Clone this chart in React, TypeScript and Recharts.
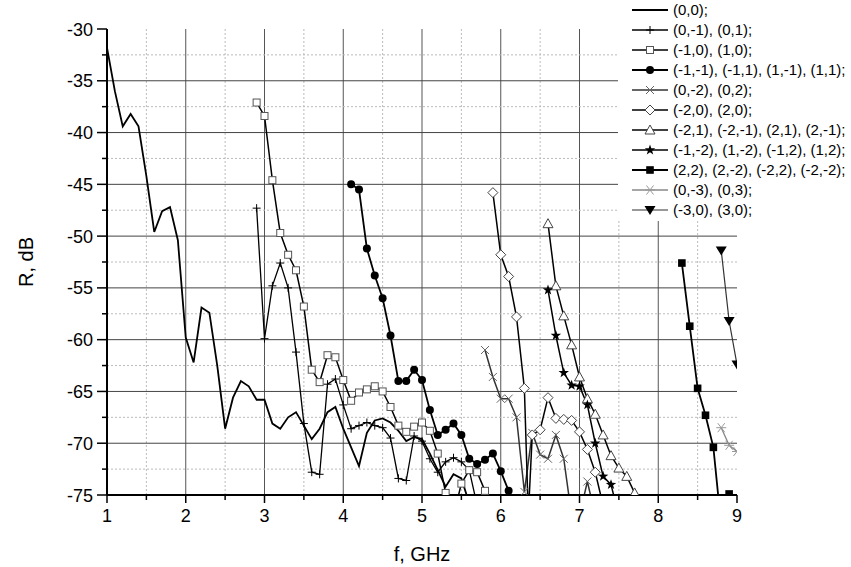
import React from 'react';
import { LineChart, Line, XAxis, YAxis, ReferenceLine, Label } from 'recharts';

// ---------- axes / ticks ----------
const xMajor = [1, 2, 3, 4, 5, 6, 7, 8, 9];
const xMinor = [1.5, 2.5, 3.5, 4.5, 5.5, 6.5, 7.5, 8.5];
const yMajor = [-30, -35, -40, -45, -50, -55, -60, -65, -70, -75];
const yMinor = [-32.5, -37.5, -42.5, -47.5, -52.5, -57.5, -62.5, -67.5, -72.5];
const xGridMajor = [2, 3, 4, 5, 6, 7, 8];
const yGridMajor = [-35, -40, -45, -50, -55, -60, -65, -70];

// ---------- series data ----------
const f00 = [1.0, 1.1, 1.2, 1.3, 1.4, 1.5, 1.6, 1.7, 1.8, 1.9, 2.0, 2.1, 2.2, 2.3, 2.4, 2.5, 2.6, 2.7, 2.8, 2.9, 3.0, 3.1, 3.2, 3.3, 3.4, 3.5, 3.6, 3.7, 3.8, 3.9, 4.0, 4.1, 4.2, 4.3, 4.4, 4.5, 4.6, 4.7, 4.8, 4.9, 5.0, 5.1, 5.2, 5.3, 5.4, 5.5, 5.6];
const r00 = [-31.8, -36.0, -39.4, -38.2, -39.4, -44.2, -49.6, -47.6, -47.2, -50.4, -59.8, -62.2, -56.9, -57.4, -62.5, -68.6, -65.6, -64.0, -64.5, -65.8, -65.8, -68.1, -68.6, -67.5, -67.0, -68.3, -69.6, -68.6, -67.0, -66.5, -68.6, -70.4, -72.2, -69.0, -67.8, -67.6, -68.0, -68.8, -69.8, -69.4, -69.6, -71.0, -72.6, -74.2, -73.0, -73.4, -75.8];

const f01 = [2.9, 3.0, 3.1, 3.2, 3.3, 3.4, 3.5, 3.6, 3.7, 3.8, 3.9, 4.0, 4.1, 4.2, 4.3, 4.4, 4.5, 4.6, 4.7, 4.8, 4.9, 5.0, 5.1, 5.2, 5.3, 5.4, 5.5, 5.6, 5.7];
const r01 = [-47.3, -59.9, -54.8, -52.6, -55.0, -61.2, -68.1, -72.8, -73.0, -64.3, -63.8, -66.3, -68.6, -68.3, -68.0, -68.3, -68.5, -69.5, -73.4, -73.6, -69.3, -69.8, -71.5, -72.8, -71.8, -71.4, -71.8, -72.6, -76.0];

const f10 = [2.9, 3.0, 3.1, 3.2, 3.3, 3.4, 3.5, 3.6, 3.7, 3.8, 3.9, 4.0, 4.1, 4.2, 4.3, 4.4, 4.5, 4.6, 4.7, 4.8, 4.9, 5.0, 5.1, 5.2, 5.3, 5.4, 5.5, 5.6, 5.7, 5.8, 5.9];
const r10 = [-37.1, -38.4, -44.6, -49.7, -51.8, -53.3, -56.8, -62.9, -64.1, -61.5, -61.7, -63.9, -65.9, -65.1, -64.8, -64.5, -65.0, -66.5, -68.3, -68.9, -68.4, -68.0, -68.8, -71.0, -74.8, -77.0, -73.9, -72.6, -72.8, -74.6, -77.0];

const f11 = [4.1, 4.2, 4.3, 4.4, 4.5, 4.6, 4.7, 4.8, 4.9, 5.0, 5.1, 5.2, 5.3, 5.4, 5.5, 5.6, 5.7, 5.8, 5.9, 6.0, 6.1];
const r11 = [-45.0, -45.5, -51.2, -53.8, -56.0, -59.6, -64.0, -64.0, -62.9, -63.9, -66.8, -69.2, -68.7, -68.1, -69.2, -71.5, -72.0, -71.6, -71.0, -72.7, -74.6];

const f02 = [5.8, 5.9, 6.0, 6.1, 6.2, 6.3, 6.4, 6.5, 6.6, 6.7, 6.8, 6.9, 7.0, 7.1, 7.2];
const r02 = [-61.0, -63.6, -65.7, -65.7, -67.5, -74.7, -69.0, -71.1, -71.5, -69.2, -71.5, -77.0, -77.0, -73.7, -77.0];

const f20 = [5.9, 6.0, 6.1, 6.2, 6.3, 6.35, 6.4, 6.5, 6.6, 6.7, 6.8, 6.9, 7.0, 7.1, 7.2, 7.3];
const r20 = [-45.8, -51.8, -53.9, -57.8, -64.7, -77.0, -69.2, -68.7, -65.6, -67.6, -67.7, -67.8, -68.9, -70.6, -72.8, -76.0];

const f21 = [6.6, 6.7, 6.8, 6.9, 7.0, 7.1, 7.2, 7.3, 7.4, 7.5, 7.6, 7.7];
const r21 = [-48.8, -54.8, -57.7, -60.5, -63.6, -65.7, -67.2, -69.2, -71.2, -72.4, -73.2, -74.8];

const f12 = [6.6, 6.7, 6.8, 6.9, 7.0, 7.1, 7.2, 7.3, 7.4, 7.5];
const r12 = [-55.2, -59.6, -63.2, -64.4, -64.5, -66.3, -70.0, -73.2, -74.0, -77.0];

const f22 = [8.3, 8.4, 8.5, 8.6, 8.7, 8.8, 8.9, 9.0];
const r22 = [-52.6, -58.7, -64.7, -67.3, -70.4, -78.0, -74.9, -78.0];

const f03 = [8.8, 8.9, 9.0];
const r03 = [-68.5, -70.2, -70.8];

const f30 = [8.8, 8.9, 9.0];
const r30 = [-51.4, -58.2, -62.4];

const legendNames = [
  '(0,0);',
  '(0,-1), (0,1);',
  '(-1,0), (1,0);',
  '(-1,-1), (-1,1), (1,-1), (1,1);',
  '(0,-2), (0,2);',
  '(-2,0), (2,0);',
  '(-2,1), (-2,-1), (2,1), (2,-1);',
  '(-1,-2), (1,-2), (-1,2), (1,2);',
  '(2,2), (2,-2), (-2,2), (-2,-2);',
  '(0,-3), (0,3);',
  '(-3,0), (3,0);',
];

type MarkerType = 'none' | 'plus' | 'square' | 'circle' | 'x' | 'diamond' | 'triangle' | 'star' | 'fsquare' | 'asterisk' | 'tdown';

const series: { f: number[]; r: number[]; marker: MarkerType; color: string; mcolor: string; width: number }[] = [
  { f: f00, r: r00, marker: 'none', color: '#000', mcolor: '#000', width: 1.8 },
  { f: f01, r: r01, marker: 'plus', color: '#000', mcolor: '#000', width: 1.3 },
  { f: f10, r: r10, marker: 'square', color: '#000', mcolor: '#555', width: 1.5 },
  { f: f11, r: r11, marker: 'circle', color: '#000', mcolor: '#000', width: 1.8 },
  { f: f02, r: r02, marker: 'x', color: '#333', mcolor: '#666', width: 1.5 },
  { f: f20, r: r20, marker: 'diamond', color: '#000', mcolor: '#444', width: 1.5 },
  { f: f21, r: r21, marker: 'triangle', color: '#000', mcolor: '#444', width: 1.5 },
  { f: f12, r: r12, marker: 'star', color: '#000', mcolor: '#000', width: 1.5 },
  { f: f22, r: r22, marker: 'fsquare', color: '#000', mcolor: '#000', width: 1.8 },
  { f: f03, r: r03, marker: 'asterisk', color: '#888', mcolor: '#999', width: 1.3 },
  { f: f30, r: r30, marker: 'tdown', color: '#333', mcolor: '#000', width: 1.2 },
];

function starPoints(cx: number, cy: number, ro: number, ri: number) {
  const pts: string[] = [];
  for (let i = 0; i < 10; i++) {
    const a = -Math.PI / 2 + (i * Math.PI) / 5;
    const rr = i % 2 === 0 ? ro : ri;
    pts.push(`${cx + rr * Math.cos(a)},${cy + rr * Math.sin(a)}`);
  }
  return pts.join(' ');
}

function Marker({ type, cx, cy, color }: { type: MarkerType; cx: number; cy: number; color: string }) {
  if (cx == null || cy == null || isNaN(cx) || isNaN(cy)) return <g />;
  switch (type) {
    case 'plus':
      return <path d={`M${cx - 4},${cy}H${cx + 4}M${cx},${cy - 4}V${cy + 4}`} stroke={color} strokeWidth={1} fill="none" />;
    case 'square':
      return <rect x={cx - 3.5} y={cy - 3.5} width={7} height={7} fill="#fff" stroke={color} strokeWidth={1} />;
    case 'circle':
      return <circle cx={cx} cy={cy} r={4} fill={color} stroke="none" />;
    case 'x':
      return <path d={`M${cx - 4},${cy - 4}L${cx + 4},${cy + 4}M${cx - 4},${cy + 4}L${cx + 4},${cy - 4}`} stroke={color} strokeWidth={1} fill="none" />;
    case 'diamond':
      return <polygon points={`${cx},${cy - 5} ${cx + 5},${cy} ${cx},${cy + 5} ${cx - 5},${cy}`} fill="#fff" stroke={color} strokeWidth={1} />;
    case 'triangle':
      return <polygon points={`${cx},${cy - 5} ${cx + 5},${cy + 4} ${cx - 5},${cy + 4}`} fill="#fff" stroke={color} strokeWidth={1} />;
    case 'star':
      return <polygon points={starPoints(cx, cy, 5.5, 2.2)} fill={color} stroke="none" />;
    case 'fsquare':
      return <rect x={cx - 3.8} y={cy - 3.8} width={7.6} height={7.6} fill={color} stroke="none" />;
    case 'asterisk':
      return (
        <path
          d={`M${cx - 5},${cy}H${cx + 5}M${cx - 3.5},${cy - 4.5}L${cx + 3.5},${cy + 4.5}M${cx - 3.5},${cy + 4.5}L${cx + 3.5},${cy - 4.5}`}
          stroke={color}
          strokeWidth={1}
          fill="none"
        />
      );
    case 'tdown':
      return <polygon points={`${cx - 5.5},${cy - 4} ${cx + 5.5},${cy - 4} ${cx},${cy + 5}`} fill={color} stroke="none" />;
    default:
      return <g />;
  }
}

const FONT = '"Liberation Sans", Arial, sans-serif';

const XTick = (props: any) => {
  const { x, y, payload } = props;
  const major = Number.isInteger(payload.value);
  return (
    <g>
      <line x1={x} y1={y} x2={x} y2={y + (major ? 8 : 5)} stroke="#000" strokeWidth={1.5} />
      {major && (
        <text x={x} y={y + 27} textAnchor="middle" fontSize={18} fontFamily={FONT} fill="#000">
          {payload.value}
        </text>
      )}
    </g>
  );
};

const YTick = (props: any) => {
  const { x, y, payload } = props;
  const major = Number.isInteger(payload.value);
  return (
    <g>
      <line x1={x} y1={y} x2={x - (major ? 10 : 5)} y2={y} stroke="#000" strokeWidth={1.5} />
      {major && (
        <text x={x - 14} y={y + 6.5} textAnchor="end" fontSize={18} fontFamily={FONT} fill="#000">
          {payload.value}
        </text>
      )}
    </g>
  );
};

function LegendBox() {
  const rowH = 20;
  const left = 618;
  const w = 851 - left;
  return (
    <div style={{ position: 'absolute', left, top: 0, width: w, height: 221, background: '#fff' }}>
      <svg width={w} height={221}>
        {legendNames.map((name, i) => {
          const s = series[i];
          const cy = 10 + i * rowH;
          return (
            <g key={name}>
              <line x1={14} y1={cy} x2={50} y2={cy} stroke={s.color} strokeWidth={s.width} />
              <Marker type={s.marker} cx={32} cy={cy} color={s.mcolor} />
              <text x={55} y={cy + 5.3} fontSize={15} fontFamily={FONT} fill="#000">
                {name}
              </text>
            </g>
          );
        })}
      </svg>
    </div>
  );
}

export default function App() {
  const xTicks = [...xMajor, ...xMinor].sort((a, b) => a - b);
  const yTicks = [...yMajor, ...yMinor].sort((a, b) => a - b);
  return (
    <div style={{ position: 'relative', width: 851, height: 567, background: '#fff' }}>
      <style>{'body{margin:0;overflow:hidden;background:#fff}'}</style>
      <LineChart width={851} height={567} margin={{ top: 29, right: 114, bottom: 0, left: 0 }}>
        {xGridMajor.map((v) => (
          <ReferenceLine key={'xg' + v} x={v} stroke="#555" strokeWidth={1} ifOverflow="hidden" />
        ))}
        {xMinor.map((v) => (
          <ReferenceLine key={'xm' + v} x={v} stroke="#bbb" strokeWidth={1} strokeDasharray="2 2" ifOverflow="hidden" />
        ))}
        {yGridMajor.map((v) => (
          <ReferenceLine key={'yg' + v} y={v} stroke="#444" strokeWidth={1} ifOverflow="hidden" />
        ))}
        {yMinor.map((v) => (
          <ReferenceLine key={'ym' + v} y={v} stroke="#bbb" strokeWidth={1} strokeDasharray="2 2" ifOverflow="hidden" />
        ))}
        <XAxis
          type="number"
          dataKey="f"
          domain={[1, 9]}
          ticks={xTicks}
          interval={0}
          allowDataOverflow
          height={72}
          tickSize={0}
          tickMargin={0}
          tickLine={false}
          tick={<XTick />}
          axisLine={{ stroke: '#000', strokeWidth: 2 }}
        >
          <Label
            value="f, GHz"
            position="insideBottom"
            offset={6}
            style={{ fontSize: 20, fontFamily: FONT, fill: '#000' }}
          />
        </XAxis>
        <YAxis
          type="number"
          domain={[-75, -30]}
          ticks={yTicks}
          interval={0}
          allowDataOverflow
          width={107}
          tickSize={0}
          tickMargin={0}
          tickLine={false}
          tick={<YTick />}
          axisLine={{ stroke: '#000', strokeWidth: 2 }}
        >
          <Label
            content={() => (
              <text
                x={26}
                y={262}
                transform="rotate(-90 26 262)"
                textAnchor="middle"
                dominantBaseline="central"
                fontSize={20}
                fontFamily={FONT}
                fill="#000"
              >
                R, dB
              </text>
            )}
          />
        </YAxis>
        {series.map((s, i) => (
          <Line
            key={'s' + i}
            data={s.f.map((fv, j) => ({ f: fv, r: s.r[j] }))}
            dataKey="r"
            type="linear"
            stroke={s.color}
            strokeWidth={s.width}
            isAnimationActive={false}
            dot={(p: any) => <Marker key={'d' + i + '-' + p.index} type={s.marker} cx={p.cx} cy={p.cy} color={s.mcolor} />}
            activeDot={false}
          />
        ))}
      </LineChart>
      <LegendBox />
    </div>
  );
}
